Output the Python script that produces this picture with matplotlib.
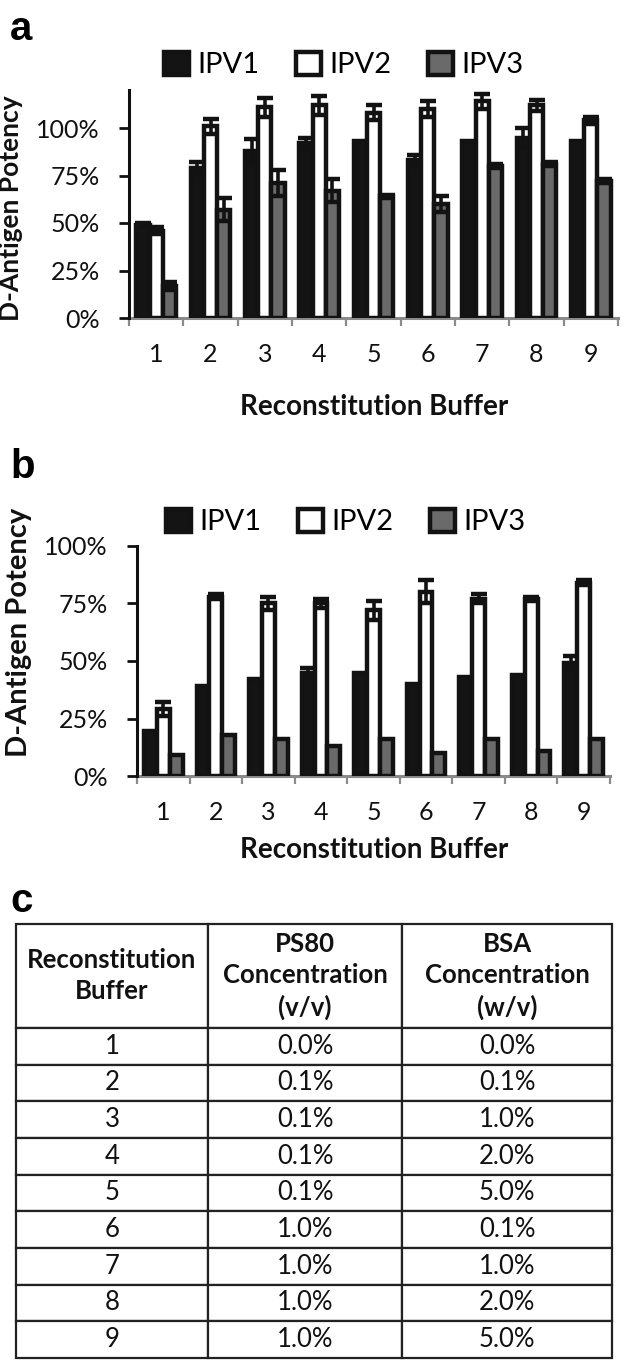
import matplotlib
matplotlib.use("Agg")
import matplotlib.pyplot as plt
import numpy as np

plt.rcParams['font.family'] = ['Lato', 'DejaVu Sans']

buffers = [1, 2, 3, 4, 5, 6, 7, 8, 9]
series_names = ['IPV1', 'IPV2', 'IPV3']

# panel a: D-antigen potency (fraction) and error
a_ipv1 = [0.49, 0.79, 0.88, 0.92, 0.93, 0.83, 0.93, 0.95, 0.93]
a_ipv1_err = [0.01, 0.03, 0.06, 0.03, 0.0, 0.03, 0.0, 0.05, 0.0]
a_ipv2 = [0.46, 1.01, 1.11, 1.12, 1.08, 1.10, 1.14, 1.12, 1.04]
a_ipv2_err = [0.02, 0.04, 0.05, 0.05, 0.04, 0.04, 0.04, 0.03, 0.02]
a_ipv3 = [0.17, 0.57, 0.71, 0.67, 0.64, 0.60, 0.80, 0.81, 0.72]
a_ipv3_err = [0.02, 0.06, 0.07, 0.06, 0.01, 0.04, 0.01, 0.01, 0.01]

# panel b
b_ipv1 = [0.195, 0.39, 0.42, 0.45, 0.45, 0.40, 0.43, 0.44, 0.49]
b_ipv1_err = [0.0, 0.0, 0.0, 0.02, 0.0, 0.0, 0.0, 0.0, 0.03]
b_ipv2 = [0.29, 0.78, 0.75, 0.75, 0.72, 0.80, 0.77, 0.77, 0.84]
b_ipv2_err = [0.03, 0.01, 0.03, 0.02, 0.04, 0.05, 0.02, 0.01, 0.01]
b_ipv3 = [0.09, 0.18, 0.16, 0.13, 0.16, 0.10, 0.16, 0.11, 0.16]
b_ipv3_err = [0.0] * 9

ytick_vals = [0, 0.25, 0.5, 0.75, 1.0]
ytick_labels = ['0%', '25%', '50%', '75%', '100%']

# panel c table
table_header = ['Reconstitution\nBuffer', 'PS80\nConcentration\n(v/v)', 'BSA\nConcentration\n(w/v)']
ps80 = ['0.0%', '0.1%', '0.1%', '0.1%', '0.1%', '1.0%', '1.0%', '1.0%', '1.0%']
bsa = ['0.0%', '0.1%', '1.0%', '2.0%', '5.0%', '0.1%', '1.0%', '2.0%', '5.0%']

W, H = 625, 1360
fig = plt.figure(figsize=(W / 100, H / 100), dpi=100)

def px_axes(left, top, right, bottom):
    return fig.add_axes([left / W, 1 - bottom / H, (right - left) / W, (bottom - top) / H])

fills = ['#141414', 'white', '#6a6a6a']
edge = '#121212'

def bar_panel(ax, vals, errs, ytop):
    x = np.array(buffers, dtype=float)
    width = 0.245
    handles = []
    for i, (v, e) in enumerate(zip(vals, errs)):
        xs = x + (i - 1) * width
        b = ax.bar(xs, v, width, color=fills[i], edgecolor=edge, linewidth=3.2, zorder=2)
        handles.append(b)
        e = np.array(e)
        m = e > 0
        ax.errorbar(xs[m], np.array(v)[m], yerr=e[m], fmt='none', ecolor=edge,
                    elinewidth=2.6, capsize=5.5, capthick=3.2, zorder=3)
    ax.set_xlim(0.5, 9.5)
    ax.set_ylim(0, ytop)
    ax.set_yticks(ytick_vals)
    ax.set_yticklabels(ytick_labels, fontsize=18, color='#111')
    ax.set_xticks(buffers)
    ax.set_xticklabels([str(b) for b in buffers], fontsize=18, color='#111')
    ax.set_xticks(np.arange(0.5, 10, 1.0), minor=True)
    ax.tick_params(axis='x', which='major', length=0, pad=18)
    ax.tick_params(axis='x', which='minor', length=6, width=1.6, color='#8a8a8a', direction='out')
    ax.tick_params(axis='y', length=7, width=2, color='#111', direction='out', pad=14)
    for s in ['top', 'right']:
        ax.spines[s].set_visible(False)
    ax.spines['left'].set_linewidth(2.2)
    ax.spines['left'].set_color('#111')
    ax.spines['bottom'].set_linewidth(2.2)
    ax.spines['bottom'].set_color('#8a8a8a')
    ax.spines['bottom'].set_zorder(1)
    return handles

# panel a
ax_a = px_axes(129, 90, 618, 318)
h = bar_panel(ax_a, [a_ipv1, a_ipv2, a_ipv3], [a_ipv1_err, a_ipv2_err, a_ipv3_err], 1.2)
fig.legend(h, series_names, loc='center', bbox_to_anchor=(344 / W, 1 - 65 / H), ncol=3,
           frameon=False, fontsize=21, handlelength=0.85, handleheight=0.85,
           handletextpad=0.3, columnspacing=1.25)
fig.text(11 / W, 1 - 208 / H, 'D-Antigen Potency', rotation=90, ha='center', va='center',
         fontsize=19, fontweight='bold', color='#111')
fig.text(374 / W, 1 - 415 / H, 'Reconstitution Buffer', ha='center', va='baseline',
         fontsize=20, fontweight='bold', color='#111')
fig.text(10 / W, 1 - 40 / H, 'a', fontsize=29, fontweight='bold', family='Liberation Sans')

# panel b
ax_b = px_axes(137, 546, 610, 776)
h = bar_panel(ax_b, [b_ipv1, b_ipv2, b_ipv3], [b_ipv1_err, b_ipv2_err, b_ipv3_err], 1.0)
fig.legend(h, series_names, loc='center', bbox_to_anchor=(346 / W, 1 - 522 / H), ncol=3,
           frameon=False, fontsize=21, handlelength=0.85, handleheight=0.85,
           handletextpad=0.3, columnspacing=1.25)
fig.text(19 / W, 1 - 632 / H, 'D-Antigen Potency', rotation=90, ha='center', va='center',
         fontsize=21, fontweight='bold', color='#111')
fig.text(374 / W, 1 - 858 / H, 'Reconstitution Buffer', ha='center', va='baseline',
         fontsize=20, fontweight='bold', color='#111')
fig.text(10 / W, 1 - 478 / H, 'b', fontsize=29, fontweight='bold', family='Liberation Sans')

# panel c
fig.text(10 / W, 1 - 912 / H, 'c', fontsize=29, fontweight='bold', family='Liberation Sans')
ax_c = px_axes(16, 924, 612, 1358)
ax_c.axis('off')
rows = [[str(b), p, s] for b, p, s in zip(buffers, ps80, bsa)]
tbl = ax_c.table(cellText=rows, colLabels=table_header, cellLoc='center',
                 colWidths=[192, 194, 210], bbox=[0, 0, 1, 1])
tbl.auto_set_font_size(False)
tbl.set_fontsize(18.5)
for (r, c), cell in tbl.get_celld().items():
    cell.set_edgecolor('#222')
    cell.set_linewidth(1.6)
    if r == 0:
        cell.set_height(104)
        cell.get_text().set_fontweight('bold')
        cell.get_text().set_linespacing(1.35)
    else:
        cell.set_height(36.7)
    cell.get_text().set_color('#111')

fig.savefig('out.png', dpi=100)
